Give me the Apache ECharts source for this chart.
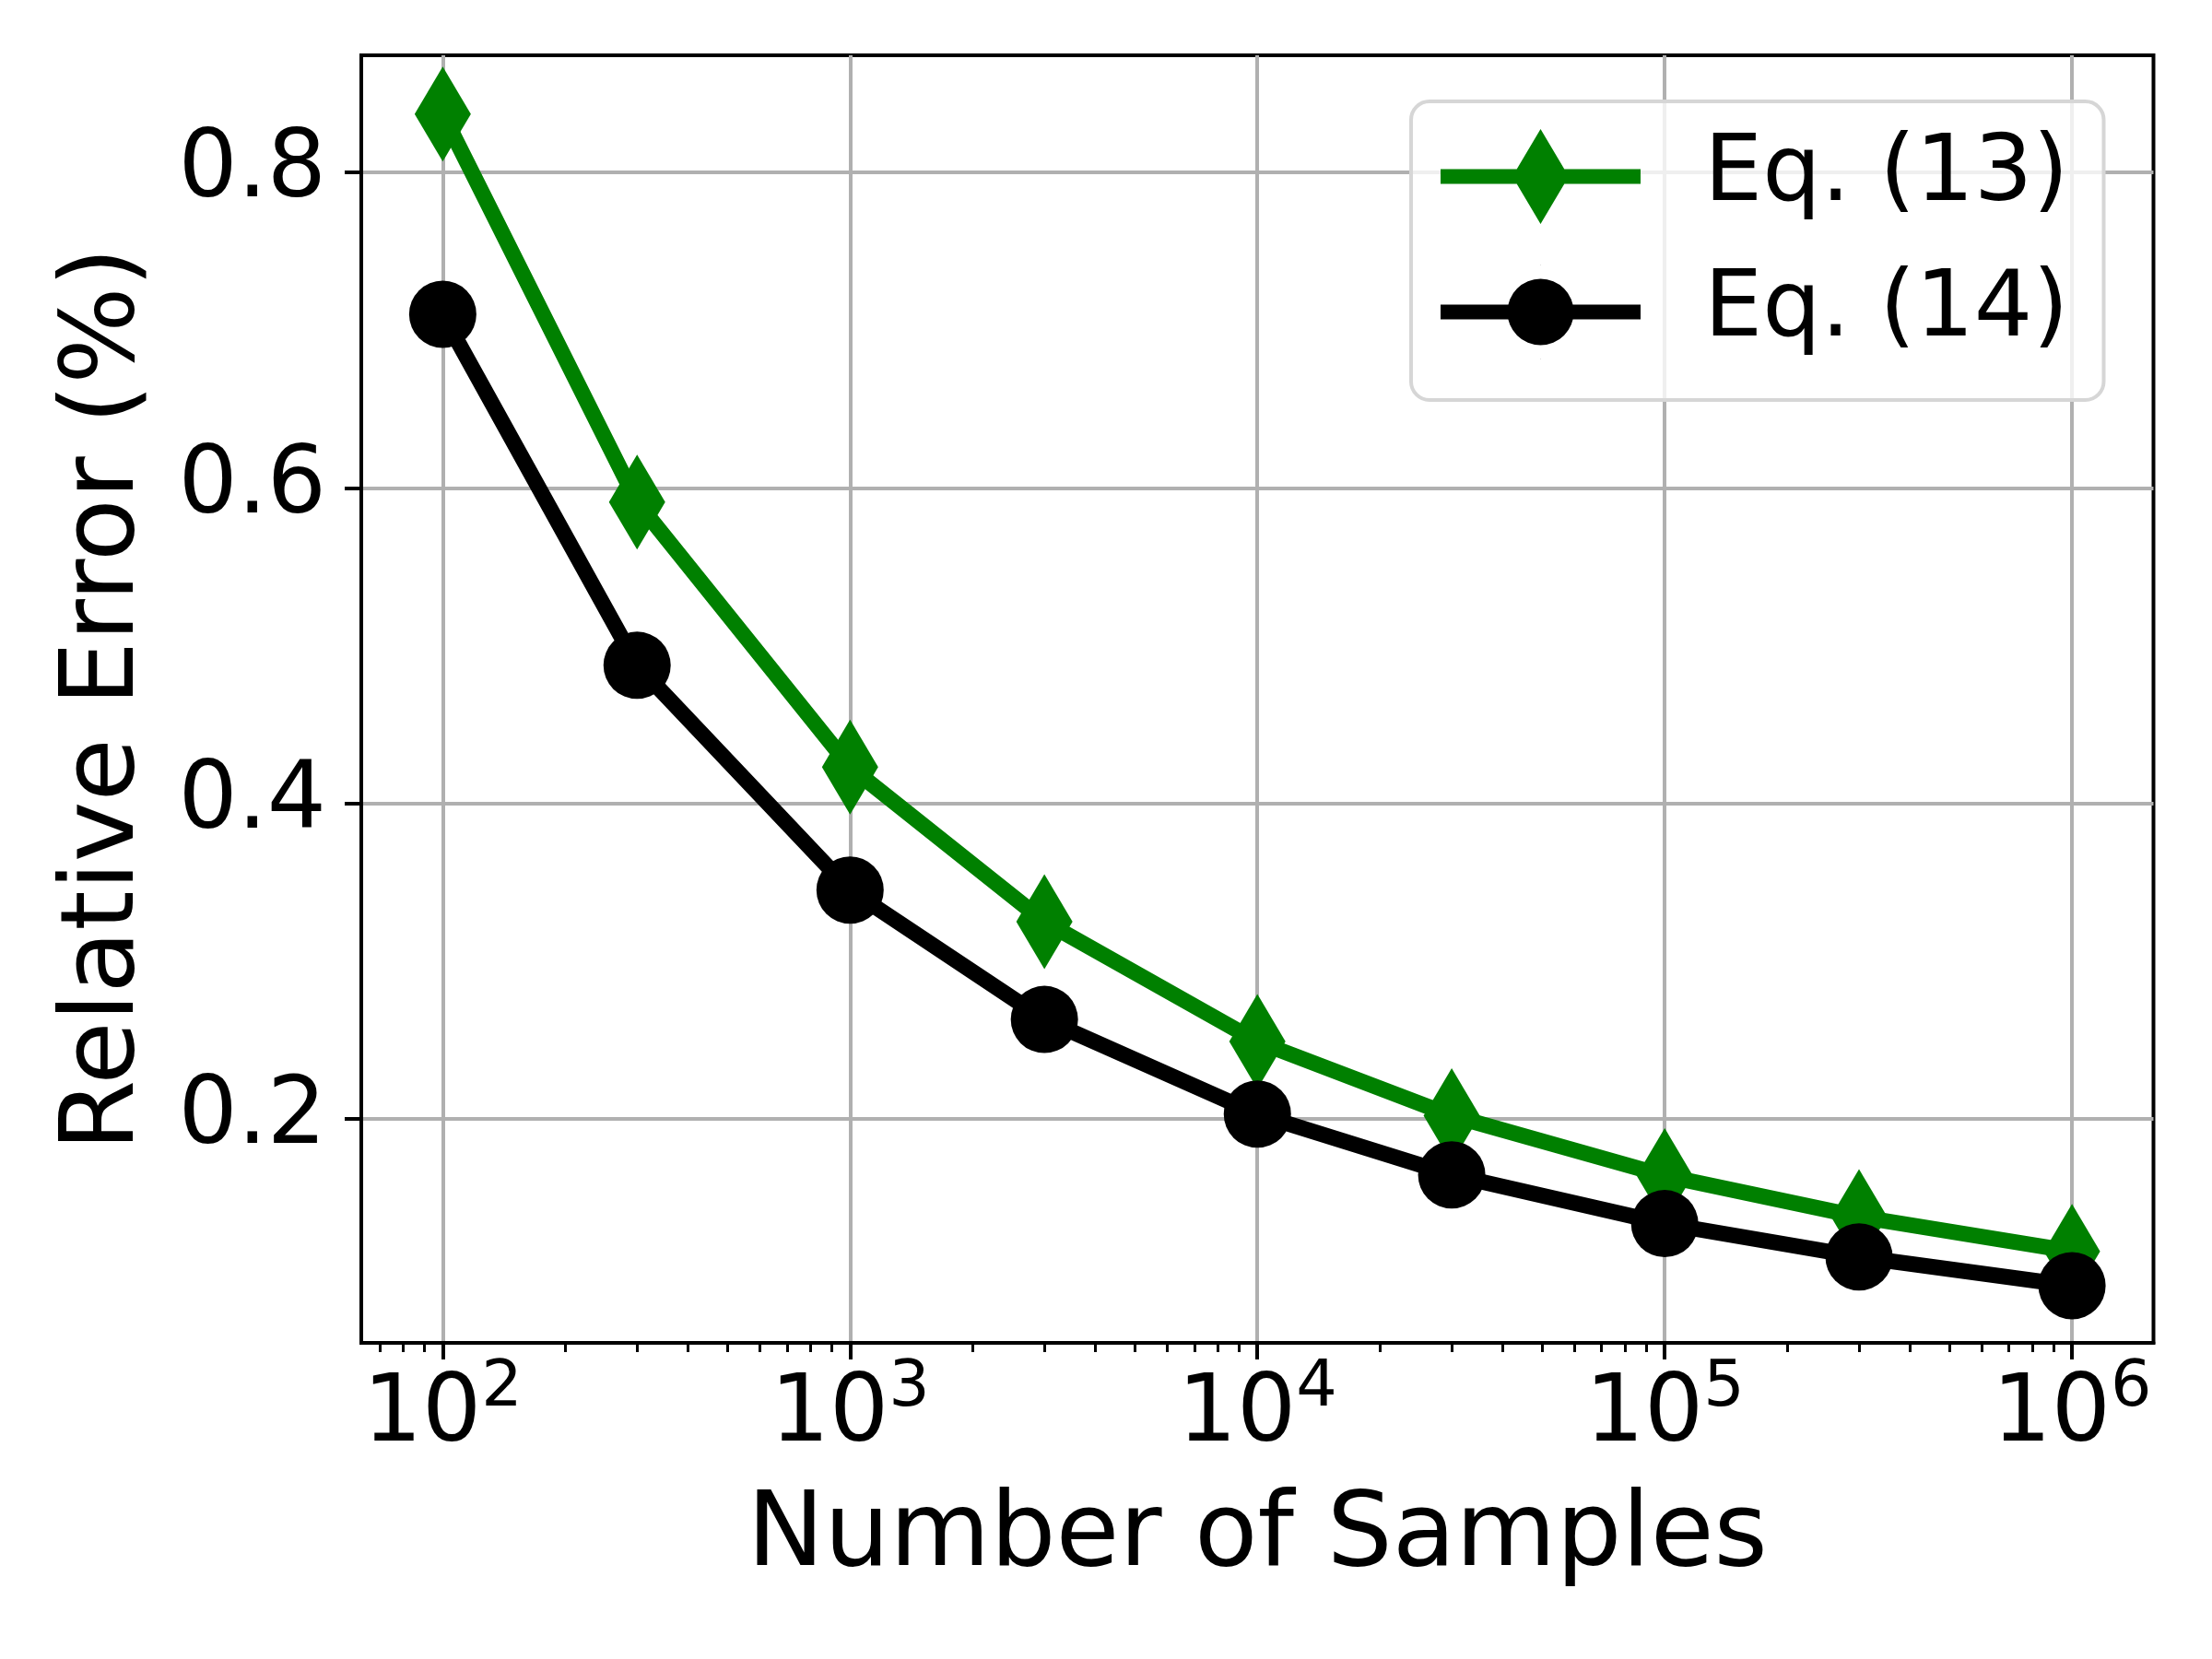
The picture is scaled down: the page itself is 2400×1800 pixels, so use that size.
<!DOCTYPE html>
<html>
<head>
<meta charset="utf-8">
<script src="https://cdn.jsdelivr.net/npm/echarts@6/dist/echarts.min.js"></script>
<style>
html,body{margin:0;padding:0;background:#ffffff;}
#chart{width:2400px;height:1800px;}
</style>
</head>
<body>
<div id="chart"></div>
<script>
// ---- data ----
const samples = [100, 300, 1000, 3000, 10000, 30000, 100000, 300000, 1000000];
const eq13 = [0.837, 0.591, 0.423, 0.325, 0.249, 0.202, 0.164, 0.138, 0.116];
const eq14 = [0.710, 0.4875, 0.345, 0.263, 0.203, 0.1645, 0.1336, 0.1125, 0.0942];
const seriesNames = ['Eq. (13)', 'Eq. (14)'];
const xMajorTicks = [100, 1000, 10000, 100000, 1000000];
const xMinorTicks = [70, 80, 90,
  200, 300, 400, 500, 600, 700, 800, 900,
  2000, 3000, 4000, 5000, 6000, 7000, 8000, 9000,
  20000, 30000, 40000, 50000, 60000, 70000, 80000, 90000,
  200000, 300000, 400000, 500000, 600000, 700000, 800000, 900000];
const yTicks = [0.2, 0.4, 0.6, 0.8];
const xTitle = 'Number of Samples';
const yTitle = 'Relative Error (%)';

// ---- styling ----
const FONT = 'DejaVu Sans';
const GREEN = '#008000';
const BLACK = '#000000';
const X_MIN = 63.1, X_MAX = 1585000;
const Y_MIN = 0.058, Y_MAX = 0.8742;

const diamondIcon = 'path://M0,43.5 L82.7,43.5 L108.5,0 L134.3,43.5 L217,43.5 L217,59.5 L134.3,59.5 L108.5,103 L82.7,59.5 L0,59.5 Z';
const circleIcon = 'path://M0,43.5 L217,43.5 L217,59.5 L0,59.5 Z M72.5,51.5 A36,36 0 1 1 144.5,51.5 A36,36 0 1 1 72.5,51.5 Z M108,0 L109,0 L108.5,0.3 Z M108,103 L109,103 L108.5,102.7 Z';

const chart = echarts.init(document.getElementById('chart'), null, {renderer: 'canvas'});

const option = {
  animation: false,
  backgroundColor: '#ffffff',
  textStyle: {fontFamily: FONT, color: '#000'},
  grid: {
    left: 392, top: 60, width: 1944.5, height: 1397,
    containLabel: false,
    outerBoundsMode: 'none',
    show: true,
    borderColor: '#000',
    borderWidth: 4,
    backgroundColor: 'transparent'
  },
  legend: {
    orient: 'vertical',
    left: 1531,
    top: 110,
    padding: [30, 38, 44, 32],
    itemWidth: 217,
    itemHeight: 103,
    itemGap: 44,
    symbolKeepAspect: true,
    backgroundColor: 'rgba(255,255,255,0.8)',
    borderColor: '#d6d6d6',
    borderWidth: 4,
    borderRadius: 20,
    itemStyle: {borderWidth: 0},
    textStyle: {fontFamily: FONT, fontSize: 100, color: '#000', padding: [0, 0, 0, 64]},
    data: [
      {name: seriesNames[0], icon: diamondIcon},
      {name: seriesNames[1], icon: circleIcon}
    ]
  },
  xAxis: [
    {
      type: 'log',
      logBase: 10,
      min: X_MIN,
      max: X_MAX,
      position: 'bottom',
      name: xTitle,
      nameLocation: 'middle',
      nameGap: 156,
      nameTextStyle: {fontFamily: FONT, fontSize: 112, color: '#000'},
      axisLine: {show: true, onZero: false, lineStyle: {color: '#000', width: 4}},
      axisTick: {show: true, inside: false, length: 18, lineStyle: {color: '#000', width: 4}, customValues: xMajorTicks},
      minorTick: {show: false},
      splitLine: {show: true, lineStyle: {color: '#b0b0b0', width: 4}},
      axisLabel: {
        show: true,
        margin: 15,
        customValues: xMajorTicks,
        formatter: function (v) {
          return '{b|10}{sup|' + Math.round(Math.log10(v)) + '}';
        },
        rich: {
          b: {fontFamily: FONT, fontSize: 101, lineHeight: 130, color: '#000'},
          sup: {fontFamily: FONT, fontSize: 70, lineHeight: 72, color: '#000', verticalAlign: 'top'}
        }
      }
    },
    {
      type: 'log',
      logBase: 10,
      min: X_MIN,
      max: X_MAX,
      position: 'bottom',
      axisLine: {show: false, onZero: false},
      axisTick: {show: true, inside: false, length: 10, lineStyle: {color: '#000', width: 3}, customValues: xMinorTicks},
      splitLine: {show: false},
      axisLabel: {show: false}
    }
  ],
  yAxis: {
    type: 'value',
    min: Y_MIN,
    max: Y_MAX,
    name: yTitle,
    nameLocation: 'middle',
    nameGap: 221,
    nameRotate: 90,
    nameTextStyle: {fontFamily: FONT, fontSize: 111, color: '#000'},
    axisLine: {show: true, lineStyle: {color: '#000', width: 4}},
    axisTick: {show: true, inside: false, length: 18, lineStyle: {color: '#000', width: 4}, customValues: yTicks},
    splitLine: {show: true, lineStyle: {color: '#b0b0b0', width: 4}},
    axisLabel: {
      show: true,
      margin: 38,
      customValues: yTicks,
      fontFamily: FONT,
      fontSize: 101,
      color: '#000',
      formatter: function (v) { return v.toFixed(1); }
    }
  },
  series: [
    {
      name: seriesNames[0],
      type: 'line',
      xAxisIndex: 0,
      z: 2,
      data: samples.map((s, i) => [s, eq13[i]]),
      symbol: 'diamond',
      symbolSize: [61, 103],
      showAllSymbol: true,
      lineStyle: {color: GREEN, width: 17, join: 'round'},
      itemStyle: {color: GREEN, borderWidth: 0},
      emphasis: {disabled: true}
    },
    {
      name: seriesNames[1],
      type: 'line',
      xAxisIndex: 0,
      z: 3,
      data: samples.map((s, i) => [s, eq14[i]]),
      symbol: 'circle',
      symbolSize: 73,
      showAllSymbol: true,
      lineStyle: {color: BLACK, width: 17, join: 'round'},
      itemStyle: {color: BLACK, borderWidth: 0},
      emphasis: {disabled: true}
    }
  ]
};

chart.setOption(option);
</script>
</body>
</html>
